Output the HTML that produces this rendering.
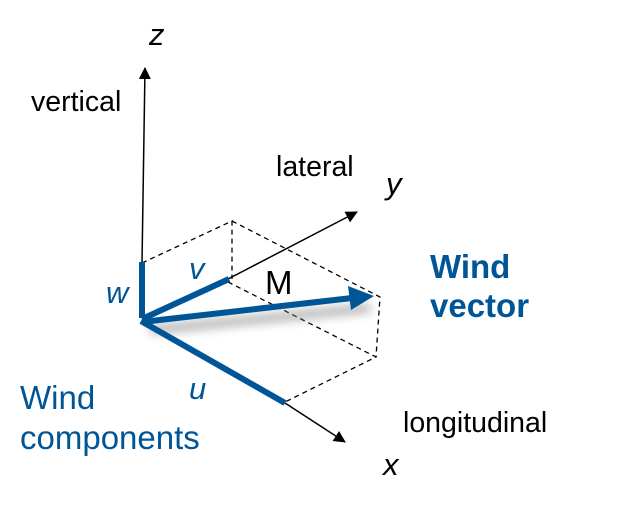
<!DOCTYPE html>
<html><head><style>
body{margin:0;background:#fff;}
svg{display:block;font-family:"Liberation Sans",sans-serif;}
</style></head><body>
<svg width="623" height="505" viewBox="0 0 623 505">
<defs>
<marker id="a" markerWidth="12" markerHeight="12" refX="11" refY="6" orient="auto" markerUnits="userSpaceOnUse">
<path d="M0,0 L12,6 L0,12 z" fill="#000"/></marker>
<filter id="sh" x="-20%" y="-100%" width="140%" height="400%"><feGaussianBlur stdDeviation="5"/></filter>
</defs>
<g stroke="#000" stroke-width="1.3" stroke-dasharray="5,4" fill="none">
<path d="M142,263 L232,221 L232,279"/>
<path d="M232,221 L380,297 L376,357"/>
<path d="M228,282 L376,357 L285,402"/>
</g>
<g stroke="#000" stroke-width="1.5" fill="none">
<line x1="142" y1="263" x2="145" y2="68" marker-end="url(#a)"/>
<line x1="228" y1="279" x2="357" y2="212" marker-end="url(#a)"/>
<line x1="285" y1="403" x2="345" y2="442" marker-end="url(#a)"/>
</g>
<line x1="150" y1="330" x2="370" y2="308" stroke="#888" stroke-width="8" filter="url(#sh)" opacity="0.7"/>
<g stroke="#005596" stroke-width="6" fill="none">
<line x1="142" y1="262" x2="142" y2="318"/>
<line x1="142" y1="319" x2="229" y2="279"/>
<line x1="141" y1="321" x2="285" y2="403"/>
<line x1="142" y1="322" x2="352" y2="298"/>
</g>
<path d="M348,286 L374,296 L351,310 z" fill="#005596"/>
<g font-size="31" font-style="italic">
<text x="149" y="45">z</text>
<text x="386" y="194">y</text>
<text x="383" y="475">x</text>
</g>
<g font-size="31" fill="#005596" font-style="italic">
<text x="106" y="303">w</text>
<text x="189" y="279">v</text>
<text x="189" y="399">u</text>
</g>
<g font-size="28.5" fill="#000">
<text x="31" y="111">vertical</text>
<text x="276" y="176">lateral</text>
<text x="403" y="432">longitudinal</text>
<text x="265" y="294" font-size="33">M</text>
</g>
<g font-size="33" font-weight="bold" fill="#005596">
<text x="430" y="278">Wind</text>
<text x="430" y="317">vector</text>
</g>
<g font-size="33" fill="#005596">
<text x="20" y="409">Wind</text>
<text x="20" y="449">components</text>
</g>
</svg>
</body></html>
